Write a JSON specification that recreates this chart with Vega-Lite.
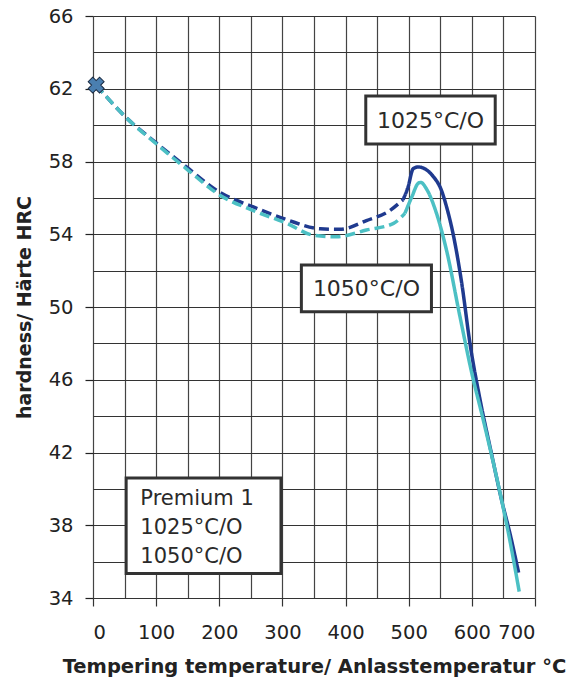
{
  "$schema": "https://vega.github.io/schema/vega-lite/v6.json",
  "width": 442,
  "height": 582,
  "autosize": {"type": "none"},
  "padding": {"left": 93, "top": 16, "right": 37, "bottom": 86},
  "background": "white",
  "config": {
    "view": {"stroke": null},
    "font": "DejaVu Sans",
    "axis": {"labelFont": "DejaVu Sans", "titleFont": "DejaVu Sans", "labelColor": "#222", "titleColor": "#222", "domain": false}
  },
  "datasets": {
    "curves": [
      {"series": "1025°C/O", "style": "dashed", "t": 5, "hrc": 62.2},
      {"series": "1025°C/O", "style": "dashed", "t": 53, "hrc": 60.4},
      {"series": "1025°C/O", "style": "dashed", "t": 101, "hrc": 59.0},
      {"series": "1025°C/O", "style": "dashed", "t": 148, "hrc": 57.7},
      {"series": "1025°C/O", "style": "dashed", "t": 201, "hrc": 56.3},
      {"series": "1025°C/O", "style": "dashed", "t": 254, "hrc": 55.5},
      {"series": "1025°C/O", "style": "dashed", "t": 307, "hrc": 54.8},
      {"series": "1025°C/O", "style": "dashed", "t": 360, "hrc": 54.3},
      {"series": "1025°C/O", "style": "dashed", "t": 391, "hrc": 54.27},
      {"series": "1025°C/O", "style": "dashed", "t": 433, "hrc": 54.75},
      {"series": "1025°C/O", "style": "dashed", "t": 470, "hrc": 55.3},
      {"series": "1025°C/O", "style": "dashed", "t": 491, "hrc": 55.9},
      {"series": "1025°C/O", "style": "solid", "t": 491, "hrc": 55.9},
      {"series": "1025°C/O", "style": "solid", "t": 499, "hrc": 56.6},
      {"series": "1025°C/O", "style": "solid", "t": 507, "hrc": 57.6},
      {"series": "1025°C/O", "style": "solid", "t": 515, "hrc": 57.7},
      {"series": "1025°C/O", "style": "solid", "t": 539, "hrc": 57.17},
      {"series": "1025°C/O", "style": "solid", "t": 552, "hrc": 56.4},
      {"series": "1025°C/O", "style": "solid", "t": 560, "hrc": 55.5},
      {"series": "1025°C/O", "style": "solid", "t": 571, "hrc": 53.9},
      {"series": "1025°C/O", "style": "solid", "t": 584, "hrc": 51.3},
      {"series": "1025°C/O", "style": "solid", "t": 597, "hrc": 48.0},
      {"series": "1025°C/O", "style": "solid", "t": 613, "hrc": 44.9},
      {"series": "1025°C/O", "style": "solid", "t": 631, "hrc": 41.95},
      {"series": "1025°C/O", "style": "solid", "t": 647, "hrc": 39.4},
      {"series": "1025°C/O", "style": "solid", "t": 660, "hrc": 37.6},
      {"series": "1025°C/O", "style": "solid", "t": 674, "hrc": 35.4},
      {"series": "1050°C/O", "style": "dashed", "t": 5, "hrc": 62.2},
      {"series": "1050°C/O", "style": "dashed", "t": 53, "hrc": 60.4},
      {"series": "1050°C/O", "style": "dashed", "t": 101, "hrc": 58.95},
      {"series": "1050°C/O", "style": "dashed", "t": 148, "hrc": 57.6},
      {"series": "1050°C/O", "style": "dashed", "t": 201, "hrc": 56.15},
      {"series": "1050°C/O", "style": "dashed", "t": 254, "hrc": 55.3},
      {"series": "1050°C/O", "style": "dashed", "t": 307, "hrc": 54.6},
      {"series": "1050°C/O", "style": "dashed", "t": 349, "hrc": 53.95},
      {"series": "1050°C/O", "style": "dashed", "t": 386, "hrc": 53.86},
      {"series": "1050°C/O", "style": "dashed", "t": 433, "hrc": 54.23},
      {"series": "1050°C/O", "style": "dashed", "t": 476, "hrc": 54.6},
      {"series": "1050°C/O", "style": "dashed", "t": 494, "hrc": 55.15},
      {"series": "1050°C/O", "style": "solid", "t": 494, "hrc": 55.15},
      {"series": "1050°C/O", "style": "solid", "t": 505, "hrc": 56.06},
      {"series": "1050°C/O", "style": "solid", "t": 515, "hrc": 56.8},
      {"series": "1050°C/O", "style": "solid", "t": 519, "hrc": 56.85},
      {"series": "1050°C/O", "style": "solid", "t": 528, "hrc": 56.5},
      {"series": "1050°C/O", "style": "solid", "t": 544, "hrc": 55.15},
      {"series": "1050°C/O", "style": "solid", "t": 560, "hrc": 53.1},
      {"series": "1050°C/O", "style": "solid", "t": 581, "hrc": 49.5},
      {"series": "1050°C/O", "style": "solid", "t": 600, "hrc": 46.35},
      {"series": "1050°C/O", "style": "solid", "t": 618, "hrc": 43.8},
      {"series": "1050°C/O", "style": "solid", "t": 647, "hrc": 39.4},
      {"series": "1050°C/O", "style": "solid", "t": 660, "hrc": 37.2},
      {"series": "1050°C/O", "style": "solid", "t": 675, "hrc": 34.35}
    ],
    "marker": [{"t": 5, "hrc": 62.2}],
    "boxes": [
      {"name": "1025", "t": 432, "t2": 637, "hrc": 58.96, "hrc2": 61.6},
      {"name": "1050", "t": 330, "t2": 536, "hrc": 49.74, "hrc2": 52.31},
      {"name": "legend", "t": 52.5, "t2": 297.7, "hrc": 35.35, "hrc2": 40.6}
    ],
    "labels": [
      {"text": "1025°C/O", "t": 534.5, "hrc": 60.25},
      {"text": "1050°C/O", "t": 433, "hrc": 51.0}
    ],
    "legendText": [
      {"text": "Premium 1", "t": 75, "hrc": 39.43},
      {"text": "1025°C/O", "t": 75, "hrc": 37.83},
      {"text": "1050°C/O", "t": 75, "hrc": 36.27}
    ]
  },
  "encoding": {
    "x": {
      "field": "t", "type": "quantitative",
      "scale": {"domain": [0, 700], "nice": false},
      "axis": {
        "values": [0, 50, 100, 150, 200, 250, 300, 350, 400, 450, 500, 550, 600, 650, 700],
        "labelExpr": "datum.value % 100 === 0 ? datum.label : ''",
        "labelOverlap": false,
        "title": "Tempering temperature/ Anlasstemperatur °C",
        "titleFontSize": 19.5, "titleFontWeight": "bold", "titlePadding": 16,
        "labelFontSize": 19.5, "labelPadding": 17,
        "tickSize": {"condition": {"test": "datum.value % 100 === 0", "value": 8}, "value": 0},
        "tickWidth": 1.2, "tickColor": "#333",
        "grid": true, "gridColor": "#444", "gridWidth": 1.2, "gridOpacity": 1
      }
    },
    "y": {
      "field": "hrc", "type": "quantitative",
      "scale": {"domain": [34, 66], "nice": false, "zero": false},
      "axis": {
        "values": [34, 36, 38, 40, 42, 44, 46, 48, 50, 52, 54, 56, 58, 60, 62, 64, 66],
        "labelExpr": "datum.value % 4 === 2 ? datum.label : ''",
        "labelOverlap": false,
        "title": "hardness/ Härte HRC",
        "titleFontSize": 19, "titleFontWeight": "bold", "titlePadding": 14,
        "labelFontSize": 19.5, "labelPadding": 12,
        "tickSize": {"condition": {"test": "datum.value % 4 === 2", "value": 8}, "value": 0},
        "tickWidth": 1.2, "tickColor": "#222",
        "grid": true, "gridWidth": 1.2, "gridOpacity": 1, "gridColor": "#333"
      }
    }
  },
  "layer": [
    {
      "data": {"name": "curves"},
      "mark": {"type": "line", "interpolate": "monotone", "strokeWidth": 3.5, "strokeCap": "butt"},
      "encoding": {
        "color": {"field": "series", "type": "nominal", "scale": {"domain": ["1025°C/O", "1050°C/O"], "range": ["#1f3a8f", "#4cc0c4"]}, "legend": null},
        "strokeDash": {"field": "style", "type": "nominal", "scale": {"domain": ["dashed", "solid"], "range": [[10, 5], [1, 0]]}, "legend": null},
        "detail": {"field": "series"}
      }
    },
    {
      "data": {"name": "marker"},
      "mark": {"type": "point", "shape": "cross", "angle": 45, "filled": true, "size": 260, "fill": "#4a7fb0", "stroke": "#1b2c44", "strokeWidth": 1, "opacity": 1},
      "encoding": {}
    },
    {
      "data": {"name": "boxes"},
      "mark": {"type": "rect", "fill": "white", "stroke": "#333", "strokeWidth": 3},
      "encoding": {
        "x2": {"field": "t2"},
        "y2": {"field": "hrc2"}
      }
    },
    {
      "data": {"name": "labels"},
      "mark": {"type": "text", "align": "center", "baseline": "middle", "fontSize": 22, "font": "DejaVu Sans", "color": "#2a2a2a"},
      "encoding": {
        "text": {"field": "text"}
      }
    },
    {
      "data": {"name": "legendText"},
      "mark": {"type": "text", "align": "left", "baseline": "middle", "fontSize": 21, "font": "DejaVu Sans", "color": "#2a2a2a"},
      "encoding": {
        "text": {"field": "text"}
      }
    }
  ]
}
